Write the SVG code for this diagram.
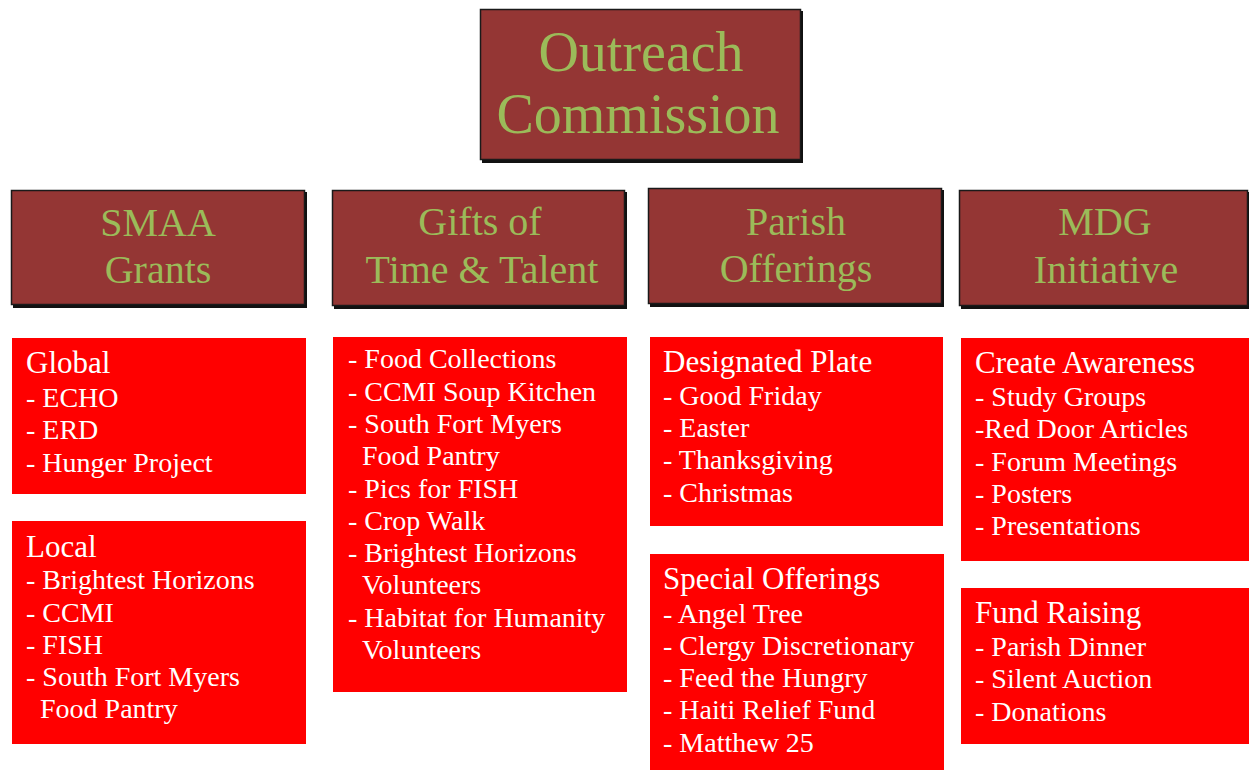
<svg xmlns="http://www.w3.org/2000/svg" width="1249" height="770" viewBox="0 0 1249 770">
<style>
.hdr{fill:#943634;stroke:#1a1a1a;stroke-width:1.5}
.shd{fill:#111}
.ht{font-family:"Liberation Serif","Times New Roman",serif;fill:#9BBB59;text-anchor:middle}
.box{fill:#FF0000}
.lt{font-family:"Liberation Serif","Times New Roman",serif;fill:#FFFFFF;font-size:28px}
.lh{font-size:31px}
</style>
<rect width="1249" height="770" fill="#FFFFFF"/>
<g id="connectors"></g>
<g id="title">
<rect class="shd" x="482" y="11" width="321" height="152"/>
<rect class="hdr" x="480.5" y="9.5" width="320" height="150"/>
<text class="ht" font-size="56" x="641" y="71">Outreach</text>
<text class="ht" font-size="56" x="638" y="133">Commission</text>
</g>
<g id="smaa">
<rect class="shd" x="13" y="192" width="294" height="116"/>
<rect class="hdr" x="11.5" y="190.5" width="293" height="114"/>
<text class="ht" font-size="40" x="158" y="236">SMAA</text>
<text class="ht" font-size="40" x="158" y="283">Grants</text>
</g>
<g id="gifts">
<rect class="shd" x="334" y="192" width="293" height="117"/>
<rect class="hdr" x="332.5" y="190.5" width="292" height="115"/>
<text class="ht" font-size="40" x="480" y="235">Gifts of</text>
<text class="ht" font-size="40" x="482" y="283">Time &amp; Talent</text>
</g>
<g id="parish">
<rect class="shd" x="650" y="190" width="294" height="117"/>
<rect class="hdr" x="648.5" y="188.5" width="293" height="115"/>
<text class="ht" font-size="40" x="796" y="235">Parish</text>
<text class="ht" font-size="40" x="796" y="282">Offerings</text>
</g>
<g id="mdg">
<rect class="shd" x="961" y="192" width="288" height="117"/>
<rect class="hdr" x="959.5" y="190.5" width="288" height="115"/>
<text class="ht" font-size="40" x="1105" y="235">MDG</text>
<text class="ht" font-size="40" x="1106" y="283">Initiative</text>
</g>
<g id="global">
<rect class="box" x="12" y="338" width="294" height="156"/>
<text class="lt"><tspan class="lh" x="26" y="373">Global</tspan><tspan x="26" y="407">- ECHO</tspan><tspan x="26" y="439">- ERD</tspan><tspan x="26" y="472">- Hunger Project</tspan></text>
</g>
<g id="local">
<rect class="box" x="12" y="521" width="294" height="223"/>
<text class="lt"><tspan class="lh" x="26" y="557">Local</tspan><tspan x="26" y="589">- Brightest Horizons</tspan><tspan x="26" y="622">- CCMI</tspan><tspan x="26" y="654">- FISH</tspan><tspan x="26" y="686">- South Fort Myers</tspan><tspan x="40" y="718">Food Pantry</tspan></text>
</g>
<g id="gifts-list">
<rect class="box" x="333" y="337" width="294" height="355"/>
<text class="lt"><tspan x="348" y="368">- Food Collections</tspan><tspan x="348" y="401">- CCMI Soup Kitchen</tspan><tspan x="348" y="433">- South Fort Myers</tspan><tspan x="362" y="465">Food Pantry</tspan><tspan x="348" y="498">- Pics for FISH</tspan><tspan x="348" y="530">- Crop Walk</tspan><tspan x="348" y="562">- Brightest Horizons</tspan><tspan x="362" y="594">Volunteers</tspan><tspan x="348" y="627">- Habitat for Humanity</tspan><tspan x="362" y="659">Volunteers</tspan></text>
</g>
<g id="designated">
<rect class="box" x="650" y="337" width="293" height="189"/>
<text class="lt"><tspan class="lh" x="663" y="372">Designated Plate</tspan><tspan x="663" y="405">- Good Friday</tspan><tspan x="663" y="437">- Easter</tspan><tspan x="663" y="469">- Thanksgiving</tspan><tspan x="663" y="502">- Christmas</tspan></text>
</g>
<g id="special">
<rect class="box" x="650" y="554" width="294" height="216"/>
<text class="lt"><tspan class="lh" x="663" y="589">Special Offerings</tspan><tspan x="663" y="623">- Angel Tree</tspan><tspan x="663" y="655">- Clergy Discretionary</tspan><tspan x="663" y="687">- Feed the Hungry</tspan><tspan x="663" y="719">- Haiti Relief Fund</tspan><tspan x="663" y="752">- Matthew 25</tspan></text>
</g>
<g id="awareness">
<rect class="box" x="961" y="338" width="288" height="223"/>
<text class="lt"><tspan class="lh" x="975" y="373">Create Awareness</tspan><tspan x="975" y="406">- Study Groups</tspan><tspan x="975" y="438">-Red Door Articles</tspan><tspan x="975" y="471">- Forum Meetings</tspan><tspan x="975" y="503">- Posters</tspan><tspan x="975" y="535">- Presentations</tspan></text>
</g>
<g id="fundraising">
<rect class="box" x="961" y="588" width="288" height="156"/>
<text class="lt"><tspan class="lh" x="975" y="623">Fund Raising</tspan><tspan x="975" y="656">- Parish Dinner</tspan><tspan x="975" y="688">- Silent Auction</tspan><tspan x="975" y="721">- Donations</tspan></text>
</g>
</svg>
